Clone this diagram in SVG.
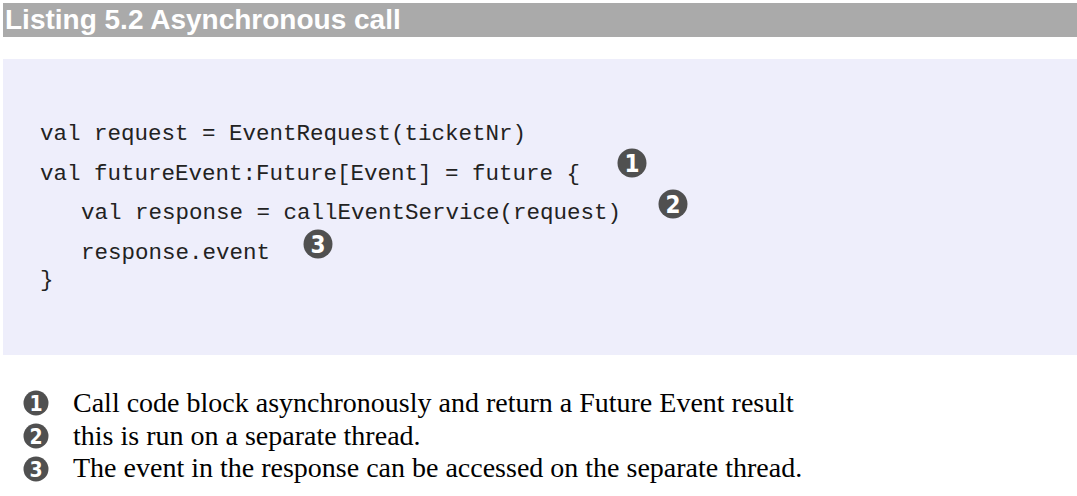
<svg xmlns="http://www.w3.org/2000/svg" width="1077" height="496" viewBox="0 0 1077 496">
<style>
.code{font-family:"Liberation Mono","Courier New",monospace;font-size:22.5px;fill:#222}
.note{font-family:"Liberation Serif","Times New Roman",serif;font-size:28px;fill:#000}
.num{font-family:"DejaVu Sans Condensed","Liberation Sans Narrow","Liberation Sans",sans-serif;font-weight:bold;fill:#fff;text-anchor:middle}
.bullet{fill:#505050}
</style>
<rect x="0" y="0" width="1077" height="496" fill="#fff"/>
<g id="header">
<rect x="3" y="3" width="1074" height="34" fill="#aaaaaa"/>
<text x="5" y="29" font-family="Liberation Sans,Arial,sans-serif" font-weight="bold" font-size="28" fill="#fff">Listing 5.2 Asynchronous call</text>
</g>
<g id="codebox">
<rect x="3" y="59" width="1074" height="296" fill="#eeeefb"/>
<text class="code" x="40" y="140">val request = EventRequest(ticketNr)</text>
<text class="code" x="40" y="180">val futureEvent:Future[Event] = future {</text>
<text class="code" x="81" y="219">val response = callEventService(request)</text>
<text class="code" x="81" y="259">response.event</text>
<text class="code" x="40" y="286">}</text>
</g>
<g id="callout1"><circle class="bullet" cx="632" cy="163" r="14.5"/><text class="num" x="632" y="172" font-size="24">1</text></g>
<g id="callout2"><circle class="bullet" cx="673" cy="204" r="14.5"/><text class="num" x="673" y="213" font-size="24">2</text></g>
<g id="callout3"><circle class="bullet" cx="318" cy="244" r="14.5"/><text class="num" x="318" y="253" font-size="24">3</text></g>
<g id="legend">
<circle class="bullet" cx="36" cy="403" r="12.5"/><text class="num" x="36" y="411" font-size="21">1</text>
<text class="note" x="73" y="412">Call code block asynchronously and return a Future Event result</text>
<circle class="bullet" cx="36" cy="436" r="12.5"/><text class="num" x="36" y="444" font-size="21">2</text>
<text class="note" x="73" y="445">this is run on a separate thread.</text>
<circle class="bullet" cx="36" cy="469" r="12.5"/><text class="num" x="36" y="477" font-size="21">3</text>
<text class="note" x="73" y="477">The event in the response can be accessed on the separate thread.</text>
</g>
<g id="connectors"/>
</svg>
